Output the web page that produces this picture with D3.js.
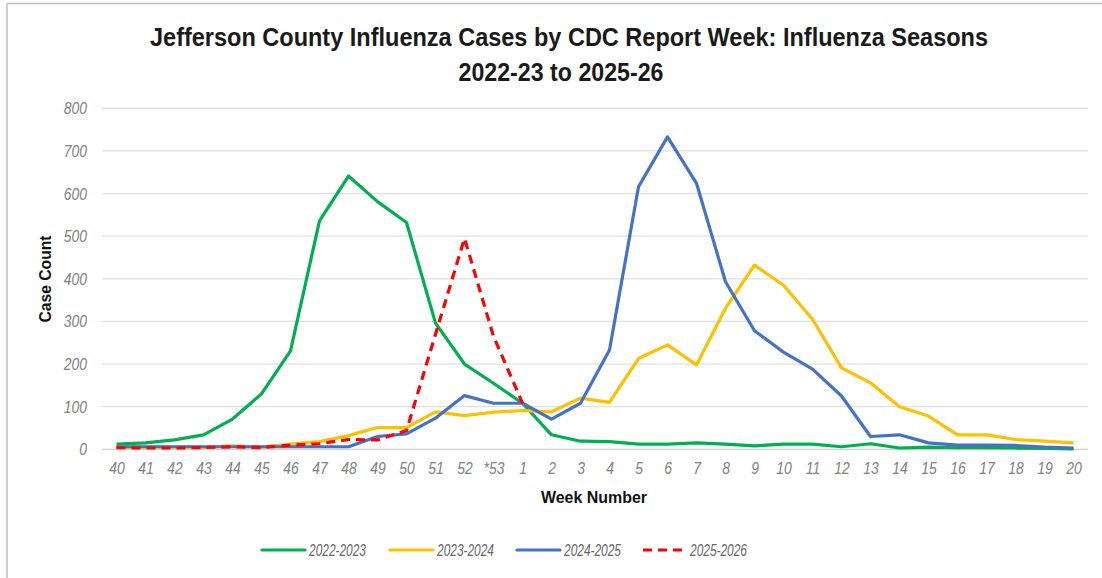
<!DOCTYPE html>
<html>
<head>
<meta charset="utf-8">
<script src="https://cdn.jsdelivr.net/npm/d3@7"></script>
<style>
  body { margin: 0; background: #fff; }
  svg { display: block; font-family: "Liberation Sans", Arial, sans-serif; }
</style>
</head>
<body>
<svg id="chart"></svg>
<script>
const weeks = ['40','41','42','43','44','45','46','47','48','49','50','51','52','*53',
  '1','2','3','4','5','6','7','8','9','10','11','12','13','14','15','16','17','18','19','20'];

const s2022 = [12,15,22,34,71,130,231,536,641,581,532,296,200,155,
  108,34,19,18,12,12,15,12,8,12,12,6,13,3,5,4,4,3,2,1];
const s2023 = [5,5,6,5,8,5,12,18,32,51,51,88,79,87,
  91,88,120,110,213,245,198,331,432,385,305,191,156,100,78,34,34,23,19,15];
const s2024 = [6,6,6,6,6,6,6,6,6,30,36,73,126,108,
  108,71,108,233,616,733,624,393,278,228,188,125,30,34,15,10,10,9,5,3];
const s2025 = [4,3,3,4,6,4,10,13,23,22,44,270,495,265,108];

const seriesNames = ['2022-2023','2023-2024','2024-2025','2025-2026'];
const yTicks = [0,100,200,300,400,500,600,700,800];

const series = [
  {name: seriesNames[0], values: s2022, color: '#00b050', dash: null},
  {name: seriesNames[1], values: s2023, color: '#ffc000', dash: null},
  {name: seriesNames[2], values: s2024, color: '#4472c4', dash: null},
  {name: seriesNames[3], values: s2025, color: '#ff0000', dash: '9,6'}
];

const width = 1102, height = 578;
const plotLeft = 102, plotRight = 1088, plotTop = 108.3, plotBottom = 449.3;

const svg = d3.select('#chart').attr('width', width).attr('height', height);

// outer frame, only top and left edges show
svg.append('path')
  .attr('d', 'M7,' + height + 'V3.5H' + width)
  .attr('fill', 'none')
  .attr('stroke', '#bfbfbf')
  .attr('stroke-width', 1.5);

const x = d3.scalePoint().domain(weeks).range([plotLeft, plotRight]).padding(0.5);
const y = d3.scaleLinear().domain([0, 800]).range([plotBottom, plotTop]);

// gridlines
svg.append('g')
  .selectAll('line')
  .data(yTicks)
  .enter()
  .append('line')
  .attr('x1', plotLeft)
  .attr('x2', plotRight)
  .attr('y1', d => y(d))
  .attr('y2', d => y(d))
  .attr('stroke', d => d === 0 ? '#d0d0d0' : '#e0e0e0')
  .attr('stroke-width', 1.2);

// narrow-looking tick labels: bigger font squeezed sideways
const yAxis = svg.append('g')
  .attr('transform', 'translate(' + (plotLeft - 15) + ',0)')
  .call(d3.axisLeft(y).tickValues(yTicks).tickSize(0).tickPadding(0));
yAxis.select('.domain').remove();
yAxis.selectAll('text')
  .attr('fill', '#808080')
  .attr('font-size', 17)
  .attr('font-style', 'italic')
  .attr('font-family', '"Liberation Sans", Arial, sans-serif')
  .attr('transform', 'scale(0.82,1)');

const xAxis = svg.append('g')
  .attr('transform', 'translate(0,' + plotBottom + ')')
  .call(d3.axisBottom(x).tickSize(0).tickPadding(13));
xAxis.select('.domain').remove();
xAxis.selectAll('text')
  .attr('fill', '#808080')
  .attr('font-size', 17)
  .attr('font-style', 'italic')
  .attr('font-family', '"Liberation Sans", Arial, sans-serif')
  .attr('transform', 'scale(0.82,1)');

const line = d3.line()
  .x((d, i) => x(weeks[i]))
  .y(d => y(d));

svg.append('g')
  .selectAll('path')
  .data(series)
  .enter()
  .append('path')
  .attr('d', d => line(d.values))
  .attr('fill', 'none')
  .attr('stroke', d => d.color)
  .attr('stroke-width', 3.2)
  .attr('stroke-linejoin', 'round')
  .attr('stroke-dasharray', d => d.dash);

// titles
svg.append('text')
  .attr('x', 569).attr('y', 46)
  .attr('text-anchor', 'middle')
  .attr('font-size', 26).attr('font-weight', 'bold')
  .attr('fill', '#1a1a1a')
  .attr('textLength', 838).attr('lengthAdjust', 'spacingAndGlyphs')
  .text('Jefferson County Influenza Cases by CDC Report Week: Influenza Seasons');
svg.append('text')
  .attr('x', 561).attr('y', 81)
  .attr('text-anchor', 'middle')
  .attr('font-size', 26).attr('font-weight', 'bold')
  .attr('fill', '#1a1a1a')
  .attr('textLength', 205).attr('lengthAdjust', 'spacingAndGlyphs')
  .text('2022-23 to 2025-26');

svg.append('text')
  .attr('x', 594).attr('y', 503)
  .attr('text-anchor', 'middle')
  .attr('font-size', 16).attr('font-weight', 'bold')
  .attr('fill', '#111')
  .attr('textLength', 106).attr('lengthAdjust', 'spacingAndGlyphs')
  .text('Week Number');

svg.append('text')
  .attr('transform', 'translate(51,279) rotate(-90)')
  .attr('text-anchor', 'middle')
  .attr('font-size', 16).attr('font-weight', 'bold')
  .attr('fill', '#111')
  .attr('textLength', 87).attr('lengthAdjust', 'spacingAndGlyphs')
  .text('Case Count');

// legend
const legendX = [262, 390, 517, 643];
const legend = svg.append('g').selectAll('g')
  .data(series)
  .enter()
  .append('g')
  .attr('transform', (d, i) => 'translate(' + legendX[i] + ',550)');
legend.append('line')
  .attr('x1', 0).attr('x2', 43)
  .attr('stroke', d => d.color)
  .attr('stroke-width', 3.2)
  .attr('stroke-linecap', d => d.dash ? 'butt' : 'round')
  .attr('stroke-dasharray', d => d.dash ? '9,6' : null);
legend.append('text')
  .attr('x', 47).attr('y', 6)
  .attr('font-size', 16.5).attr('font-style', 'italic')
  .attr('fill', '#666')
  .attr('textLength', 57).attr('lengthAdjust', 'spacingAndGlyphs')
  .text(d => d.name);
</script>
</body>
</html>
